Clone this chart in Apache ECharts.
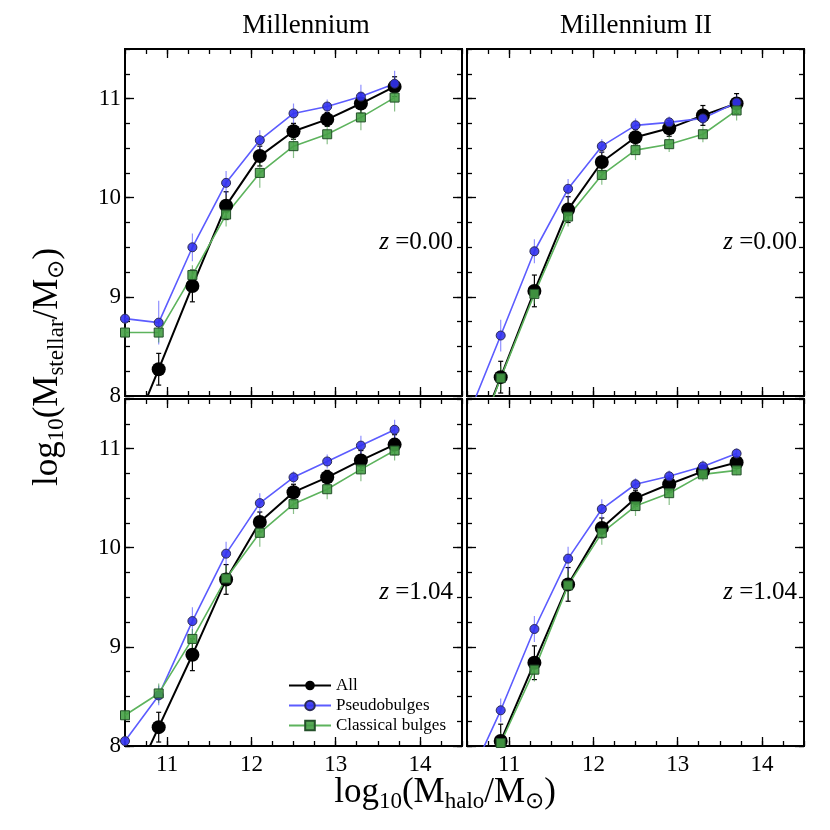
<!DOCTYPE html>
<html>
<head>
<meta charset="utf-8">
<script src="https://cdn.jsdelivr.net/npm/echarts@6/dist/echarts.min.js"></script>
<style>
  html, body { margin: 0; padding: 0; background: #fff; }
  #main { width: 830px; height: 830px; }
</style>
</head>
<body>
<div id="main"></div>
<script>
// halo mass bins (log10 Mhalo)
const haloMass = [10.5, 10.9, 11.3, 11.7, 12.1, 12.5, 12.9, 13.3, 13.7];

// Millennium, z = 0.00
const allM0 = [7.45, 8.27, 9.11, 9.92, 10.42, 10.67, 10.79, 10.95, 11.12];
const pseudoM0 = [8.78, 8.74, 9.50, 10.15, 10.58, 10.85, 10.92, 11.02, 11.15];
const classM0 = [8.64, 8.64, 9.22, 9.83, 10.25, 10.52, 10.64, 10.81, 11.01];
const allErrM0 = [0.15, 0.16, 0.16, 0.14, 0.10, 0.08, 0.07, 0.10, 0.10];
const pseudoErrM0 = [0.05, 0.22, 0.14, 0.12, 0.10, 0.10, 0.07, 0.12, 0.13];
const classErrM0 = [0.05, 0.10, 0.10, 0.12, 0.15, 0.12, 0.10, 0.13, 0.14];

// Millennium II, z = 0.00
const allM2z0 = [7.32, 8.19, 9.06, 9.88, 10.36, 10.61, 10.70, 10.83, 10.95];
const pseudoM2z0 = [7.77, 8.61, 9.46, 10.09, 10.52, 10.73, 10.76, 10.80, 10.96];
const classM2z0 = [7.30, 8.18, 9.03, 9.81, 10.23, 10.48, 10.54, 10.64, 10.88];
const allErrM2z0 = [0.15, 0.16, 0.16, 0.13, 0.10, 0.08, 0.08, 0.10, 0.10];
const pseudoErrM2z0 = [0.10, 0.16, 0.12, 0.10, 0.07, 0.07, 0.06, 0.06, 0.07];
const classErrM2z0 = [0.10, 0.12, 0.10, 0.10, 0.10, 0.10, 0.08, 0.08, 0.10];

// Millennium, z = 1.04
const allM1 = [7.46, 8.19, 8.92, 9.68, 10.26, 10.56, 10.71, 10.88, 11.04];
const pseudoM1 = [8.05, 8.51, 9.26, 9.94, 10.45, 10.71, 10.87, 11.03, 11.19];
const classM1 = [8.31, 8.53, 9.08, 9.69, 10.15, 10.44, 10.59, 10.79, 10.98];
const allErrM1 = [0.15, 0.15, 0.16, 0.15, 0.10, 0.08, 0.07, 0.10, 0.10];
const pseudoErrM1 = [0.05, 0.10, 0.14, 0.12, 0.10, 0.06, 0.07, 0.10, 0.10];
const classErrM1 = [0.05, 0.10, 0.10, 0.12, 0.14, 0.10, 0.10, 0.12, 0.10];

// Millennium II, z = 1.04
const allM2z1 = [7.25, 8.05, 8.84, 9.63, 10.20, 10.50, 10.64, 10.77, 10.86];
const pseudoM2z1 = [7.62, 8.36, 9.18, 9.89, 10.39, 10.64, 10.72, 10.82, 10.95];
const classM2z1 = [7.20, 8.03, 8.77, 9.62, 10.15, 10.42, 10.55, 10.74, 10.78];
const allErrM2z1 = [0.15, 0.17, 0.17, 0.17, 0.10, 0.08, 0.08, 0.06, 0.05];
const pseudoErrM2z1 = [0.10, 0.12, 0.13, 0.12, 0.10, 0.06, 0.06, 0.06, 0.05];
const classErrM2z1 = [0.10, 0.10, 0.12, 0.13, 0.12, 0.10, 0.12, 0.07, 0.05];

const xMajor = [11, 12, 13, 14];
const yMajor = [8, 9, 10, 11];
const FONT = 'Liberation Serif';

const panels = [
  { grid: { left: 125, top: 49, width: 337, height: 347 }, all: allM0, pseudo: pseudoM0, cls: classM0,
    allErr: allErrM0, pseudoErr: pseudoErrM0, clsErr: classErrM0, xLab: false, yLab: true },
  { grid: { left: 467, top: 49, width: 337, height: 347 }, all: allM2z0, pseudo: pseudoM2z0, cls: classM2z0,
    allErr: allErrM2z0, pseudoErr: pseudoErrM2z0, clsErr: classErrM2z0, xLab: false, yLab: false },
  { grid: { left: 125, top: 399, width: 337, height: 347 }, all: allM1, pseudo: pseudoM1, cls: classM1,
    allErr: allErrM1, pseudoErr: pseudoErrM1, clsErr: classErrM1, xLab: true, yLab: true },
  { grid: { left: 467, top: 399, width: 337, height: 347 }, all: allM2z1, pseudo: pseudoM2z1, cls: classM2z1,
    allErr: allErrM2z1, pseudoErr: pseudoErrM2z1, clsErr: classErrM2z1, xLab: true, yLab: false }
];

const tickStyle = { color: '#000', width: 1.3 };
const labelStyle = { color: '#000', fontFamily: FONT, fontSize: 23 };

const grids = [], xAxes = [], yAxes = [], series = [];

function errorBars(idx, vals, errs, color, width, cap) {
  return {
    type: 'custom', xAxisIndex: idx * 4 + 1, yAxisIndex: idx * 4 + 1, z: 1, silent: true,
    data: haloMass.map((x, k) => [x, vals[k], errs[k]]),
    renderItem(params, api) {
      const cs = params.coordSys;
      const x = api.value(0), y = api.value(1), e = api.value(2);
      const p1 = api.coord([x, y + e]), p2 = api.coord([x, y - e]);
      const yTop = Math.max(p1[1], cs.y), yBot = Math.min(p2[1], cs.y + cs.height);
      if (yTop >= yBot || p1[0] < cs.x || p1[0] > cs.x + cs.width) return;
      const st = { stroke: color, lineWidth: width };
      const ch = [{ type: 'line', shape: { x1: p1[0], y1: yTop, x2: p1[0], y2: yBot }, style: st }];
      if (cap) {
        if (p1[1] >= cs.y) ch.push({ type: 'line', shape: { x1: p1[0] - cap, y1: p1[1], x2: p1[0] + cap, y2: p1[1] }, style: st });
        if (p2[1] <= cs.y + cs.height) ch.push({ type: 'line', shape: { x1: p1[0] - cap, y1: p2[1], x2: p1[0] + cap, y2: p2[1] }, style: st });
      }
      return { type: 'group', children: ch };
    }
  };
}

panels.forEach((p, i) => {
  grids.push(Object.assign({ show: true, borderColor: '#000', borderWidth: 2, backgroundColor: 'transparent' }, p.grid));

  const xb = { type: 'value', gridIndex: i, min: 10.5, max: 14.5, axisLine: { show: false }, splitLine: { show: false } };
  ['bottom', 'top'].forEach(pos => {
    xAxes.push(Object.assign({}, xb, { position: pos, interval: 0.25, axisLabel: { show: false },
      axisTick: { inside: true, length: 5, lineStyle: tickStyle } }));
    xAxes.push(Object.assign({}, xb, { position: pos,
      axisLabel: Object.assign({ show: pos === 'bottom' && p.xLab, customValues: xMajor, margin: 7 }, labelStyle),
      axisTick: { inside: true, length: 9, customValues: xMajor, lineStyle: tickStyle } }));
  });

  const yb = { type: 'value', gridIndex: i, min: 8, max: 11.5, axisLine: { show: false }, splitLine: { show: false } };
  ['left', 'right'].forEach(pos => {
    yAxes.push(Object.assign({}, yb, { position: pos, interval: 0.25, axisLabel: { show: false },
      axisTick: { inside: true, length: 5, lineStyle: tickStyle } }));
    yAxes.push(Object.assign({}, yb, { position: pos,
      axisLabel: Object.assign({ show: pos === 'left' && p.yLab, customValues: yMajor, margin: 4 }, labelStyle),
      axisTick: { inside: true, length: 9, customValues: yMajor, lineStyle: tickStyle } }));
  });

  series.push(errorBars(i, p.all, p.allErr, '#000', 1.2, 2.5));
  series.push(errorBars(i, p.pseudo, p.pseudoErr, 'rgba(70,70,255,0.6)', 1.2, 0));
  series.push(errorBars(i, p.cls, p.clsErr, 'rgba(60,150,60,0.6)', 1.2, 0));

  const ax = { xAxisIndex: i * 4 + 1, yAxisIndex: i * 4 + 1, z: 2, animation: false, clip: true };
  series.push(Object.assign({
    type: 'line', name: 'All', data: haloMass.map((x, k) => [x, p.all[k]]),
    symbol: 'circle', symbolSize: 14,
    lineStyle: { color: '#000', width: 2 }, itemStyle: { color: '#000' }
  }, ax));
  series.push(Object.assign({
    type: 'line', name: 'Pseudobulges', data: haloMass.map((x, k) => [x, p.pseudo[k]]),
    symbol: 'circle', symbolSize: 9,
    lineStyle: { color: '#5c5cff', width: 1.6 },
    itemStyle: { color: 'rgba(50,50,240,0.9)', borderColor: '#2b2b55', borderWidth: 1 }
  }, ax));
  series.push(Object.assign({
    type: 'line', name: 'Classical bulges', data: haloMass.map((x, k) => [x, p.cls[k]]),
    symbol: 'rect', symbolSize: 9,
    lineStyle: { color: '#5db35d', width: 1.6 },
    itemStyle: { color: 'rgba(70,160,70,0.9)', borderColor: '#24502a', borderWidth: 1 }
  }, ax));
});

const zRich = { i: { fontFamily: FONT, fontSize: 25, fontStyle: 'italic' }, a: { fontFamily: FONT, fontSize: 25 } };
function zLabel(x, y, txt) {
  return { type: 'text', x: x, y: y, style: { text: '{i|z}{a| =' + txt + '}', rich: zRich, fill: '#000', align: 'right', verticalAlign: 'middle' } };
}
const axRich = {
  a: { fontFamily: FONT, fontSize: 35, lineHeight: 40, verticalAlign: 'middle' },
  s: { fontFamily: FONT, fontSize: 23, lineHeight: 16, verticalAlign: 'bottom' }
};

const option = {
  animation: false,
  backgroundColor: '#fff',
  grid: grids,
  xAxis: xAxes,
  yAxis: yAxes,
  legend: {
    data: ['All', 'Pseudobulges', 'Classical bulges'],
    orient: 'vertical', left: 283, top: 672,
    itemWidth: 42, itemHeight: 12, itemGap: 3, selectedMode: false,
    textStyle: { fontFamily: FONT, fontSize: 17, color: '#000' }
  },
  graphic: [
    { type: 'text', x: 306, y: 26, style: { text: 'Millennium', font: '27px "Liberation Serif"', fill: '#000', align: 'center', verticalAlign: 'middle' } },
    { type: 'text', x: 636, y: 26, style: { text: 'Millennium II', font: '27px "Liberation Serif"', fill: '#000', align: 'center', verticalAlign: 'middle' } },
    zLabel(453, 242, '0.00'), zLabel(797, 242, '0.00'),
    zLabel(453, 592, '1.04'), zLabel(797, 592, '1.04'),
    { type: 'text', x: 445, y: 793, style: { text: '{a|log}{s|10}{a|(M}{s|halo}{a|/M}{s|⊙}{a|)}', rich: axRich, fill: '#000', align: 'center', verticalAlign: 'middle' } },
    { type: 'text', x: 48, y: 367, rotation: Math.PI / 2, style: { text: '{a|log}{s|10}{a|(M}{s|stellar}{a|/M}{s|⊙}{a|)}', rich: axRich, fill: '#000', align: 'center', verticalAlign: 'middle' } }
  ],
  series: series
};

const chart = echarts.init(document.getElementById('main'));
chart.setOption(option);
</script>
</body>
</html>
